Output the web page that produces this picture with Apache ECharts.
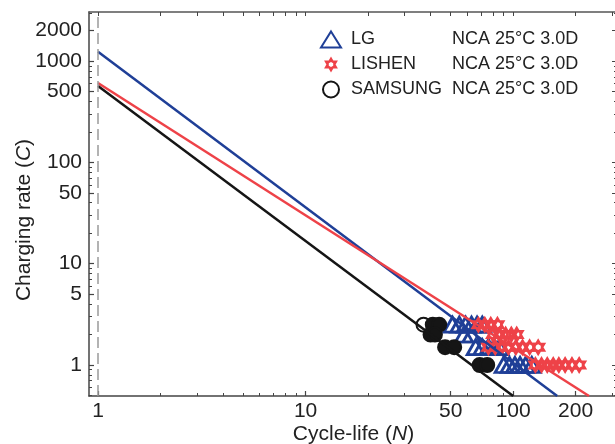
<!DOCTYPE html>
<html><head><meta charset="utf-8">
<script src="https://cdn.jsdelivr.net/npm/echarts@6/dist/echarts.min.js"></script>
<style>html,body{margin:0;padding:0;background:#fff}#c{width:615px;height:444px}</style>
</head><body><div id="c"></div>
<script>
// ---- axis ticks / ranges ----
const xMajorTicks = [1, 10, 50, 100, 200];
const xMinorTicks = [2, 3, 4, 5, 6, 7, 8, 9, 20, 30, 40, 60, 70, 80, 90, 300];
const yMajorTicks = [1, 5, 10, 50, 100, 500, 1000, 2000];
const yMinorTicks = [0.5, 0.6, 0.7, 0.8, 0.9, 2, 3, 4, 6, 7, 8, 9, 20, 30, 40, 60, 70, 80, 90, 200, 300, 400, 600, 700, 800, 900, 3000];
const xRange = [0.905, 320];
const yRange = [0.494, 3055];
const refLineX = 1;

// ---- legend ----
const seriesNames = ['LG', 'LISHEN', 'SAMSUNG'];
const seriesNotes = ['NCA 25°C 3.0D', 'NCA 25°C 3.0D', 'NCA 25°C 3.0D'];

// ---- measured points [cycle-life N, charging rate C] ----
const lgPoints = [
  [51, 2.5], [55, 2.5], [59, 2.5], [63, 2.5], [67, 2.5], [71, 2.5],
  [58, 2.0], [63, 2.0],
  [66, 1.5], [71, 1.5], [76, 1.5], [81, 1.5], [86, 1.5],
  [90, 1], [96, 1], [102, 1], [108, 1], [115, 1], [123, 1]
];
const lishenPoints = [
  [68, 2.5], [73, 2.5], [78, 2.5], [84, 2.5],
  [80, 2.0], [86, 2.0], [92, 2.0], [98, 2.0], [104, 2.0],
  [76, 1.5], [82, 1.5], [88, 1.5], [95, 1.5], [103, 1.5], [111, 1.5], [120, 1.5], [132, 1.5],
  [128, 1], [137, 1], [146, 1], [156, 1], [166, 1], [178, 1], [192, 1], [208, 1]
];
const samsungOpenPoints = [[37, 2.5]];
const samsungFilledPoints = [
  [41, 2.5], [44, 2.5],
  [40, 2.0], [42, 2.0],
  [47, 1.5], [52, 1.5],
  [69, 1], [75, 1]
];

// ---- fitted power-law lines (end points) ----
const lgFit = [[1, 1238], [163, 0.494]];
const lishenFit = [[1, 608], [232, 0.494]];
const samsungFit = [[1, 568], [100, 0.494]];

const BLUE = '#1f3f97', RED = '#ee4248', BLACK = '#151515';
const AXIS = '#444';
const FONT = '"Liberation Sans", Arial, Helvetica, sans-serif';
const starPath = 'path://M0,-10L2.887,-5L8.66,-5L5.774,0L8.66,5L2.887,5L0,10L-2.887,5L-8.66,5L-5.774,0L-8.66,-5L-2.887,-5ZM0,-3.2L-2.77,-1.6L-2.77,1.6L0,3.2L2.77,1.6L2.77,-1.6Z';

const fmt = v => String(+Number(v).toPrecision(6));

function baseAxis(extra) {
  return Object.assign({
    type: 'log', logBase: 10,
    splitLine: { show: false }, minorTick: { show: false }, minorSplitLine: { show: false },
  }, extra);
}

const chart = echarts.init(document.getElementById('c'), null, { renderer: 'canvas' });
chart.setOption({
  animation: false,
  backgroundColor: '#fff',
  textStyle: { fontFamily: FONT },
  grid: { left: 89, top: 12, right: -3, bottom: 48, containLabel: false, outerBoundsMode: 'none' },
  legend: {
    orient: 'vertical', left: 320, top: 29, padding: 0,
    itemWidth: 20, itemHeight: 16, itemGap: 4,
    data: seriesNames,
    formatter: name => `{n|${name}}{d|${seriesNotes[seriesNames.indexOf(name)]}}`,
    textStyle: {
      fontFamily: FONT, fontSize: 18, color: '#222', lineHeight: 21,
      rich: {
        n: { fontFamily: FONT, fontSize: 18, color: '#222', width: 101, padding: [0, 0, 0, 5] },
        d: { fontFamily: FONT, fontSize: 18, color: '#222' }
      }
    }
  },
  xAxis: [
    baseAxis({
      position: 'bottom', min: xRange[0], max: xRange[1],
      name: 'Cycle-life ({i|N})', nameLocation: 'middle', nameGap: 28, nameMoveOverlap: false,
      nameTextStyle: { fontFamily: FONT, fontSize: 21, color: '#222',
        rich: { i: { fontFamily: FONT, fontSize: 21, fontStyle: 'italic', color: '#222' } } },
      axisLine: { show: true, lineStyle: { color: AXIS, width: 1.5 } },
      axisTick: { show: true, inside: true, length: 5, customValues: xMajorTicks, lineStyle: { color: AXIS, width: 1.2 } },
      axisLabel: { show: true, customValues: xMajorTicks, formatter: fmt, margin: 5,
        fontFamily: FONT, fontSize: 21, color: '#222' }
    }),
    baseAxis({
      position: 'bottom', min: xRange[0], max: xRange[1],
      axisLine: { show: false },
      axisTick: { show: true, inside: true, length: 3, customValues: xMinorTicks, lineStyle: { color: AXIS, width: 1 } },
      axisLabel: { show: false }
    }),
    baseAxis({
      position: 'top', min: xRange[0], max: xRange[1],
      axisLine: { show: true, lineStyle: { color: '#555', width: 1.5 } },
      axisTick: { show: true, inside: true, length: 4, customValues: xMajorTicks.concat(xMinorTicks), lineStyle: { color: AXIS, width: 1 } },
      axisLabel: { show: false }
    })
  ],
  yAxis: [
    baseAxis({
      position: 'left', min: yRange[0], max: yRange[1],
      name: 'Charging rate ({i|C})', nameLocation: 'middle', nameGap: 54, nameMoveOverlap: false,
      nameTextStyle: { fontFamily: FONT, fontSize: 21, color: '#222', padding: [0, 32, 0, 0],
        rich: { i: { fontFamily: FONT, fontSize: 21, fontStyle: 'italic', color: '#222' } } },
      axisLine: { show: true, lineStyle: { color: AXIS, width: 1.5 } },
      axisTick: { show: true, inside: true, length: 5, customValues: yMajorTicks, lineStyle: { color: AXIS, width: 1.2 } },
      axisLabel: { show: true, customValues: yMajorTicks, formatter: fmt, margin: 7,
        fontFamily: FONT, fontSize: 21, color: '#222' }
    }),
    baseAxis({
      position: 'left', min: yRange[0], max: yRange[1],
      axisLine: { show: false },
      axisTick: { show: true, inside: true, length: 3, customValues: yMinorTicks, lineStyle: { color: AXIS, width: 1 } },
      axisLabel: { show: false }
    }),
    baseAxis({
      position: 'right', min: yRange[0], max: yRange[1],
      axisLine: { show: true, lineStyle: { color: '#555', width: 1.5 } },
      axisTick: { show: true, inside: true, length: 6, customValues: yMajorTicks, lineStyle: { color: AXIS, width: 1 } },
      axisLabel: { show: false }
    }),
    baseAxis({
      position: 'right', min: yRange[0], max: yRange[1],
      axisLine: { show: false },
      axisTick: { show: true, inside: true, length: 4, customValues: yMinorTicks, lineStyle: { color: AXIS, width: 1 } },
      axisLabel: { show: false }
    })
  ],
  series: [
    {
      name: 'LG fit', type: 'line', data: lgFit, symbol: 'none', clip: true,
      lineStyle: { color: BLUE, width: 2.5 }, silent: true,
      markLine: {
        silent: true, symbol: 'none', label: { show: false },
        lineStyle: { color: '#9a9a9a', width: 1.5, type: [11, 5] },
        data: [{ xAxis: refLineX }]
      }
    },
    { name: 'LISHEN fit', type: 'line', data: lishenFit, symbol: 'none', clip: true,
      lineStyle: { color: RED, width: 2.5 }, silent: true },
    { name: 'SAMSUNG fit', type: 'line', data: samsungFit, symbol: 'none', clip: true,
      lineStyle: { color: BLACK, width: 2.5 }, silent: true },
    {
      name: 'LG', type: 'scatter', data: lgPoints, symbol: 'triangle', symbolSize: [17, 15],
      itemStyle: { color: 'rgba(255,255,255,0)', borderColor: BLUE, borderWidth: 2.8, opacity: 1 }
    },
    {
      name: 'LISHEN', type: 'scatter', data: lishenPoints, symbol: starPath, symbolSize: [16, 18],
      itemStyle: { color: RED, opacity: 1 }
    },
    {
      name: 'SAMSUNG', type: 'scatter', symbol: 'circle', symbolSize: 14,
      data: samsungOpenPoints.map(p => ({ value: p }))
        .concat(samsungFilledPoints.map(p => ({ value: p, itemStyle: { color: BLACK } }))),
      itemStyle: { color: 'rgba(255,255,255,0)', borderColor: BLACK, borderWidth: 2, opacity: 1 }
    }
  ]
});
</script>
</body></html>
